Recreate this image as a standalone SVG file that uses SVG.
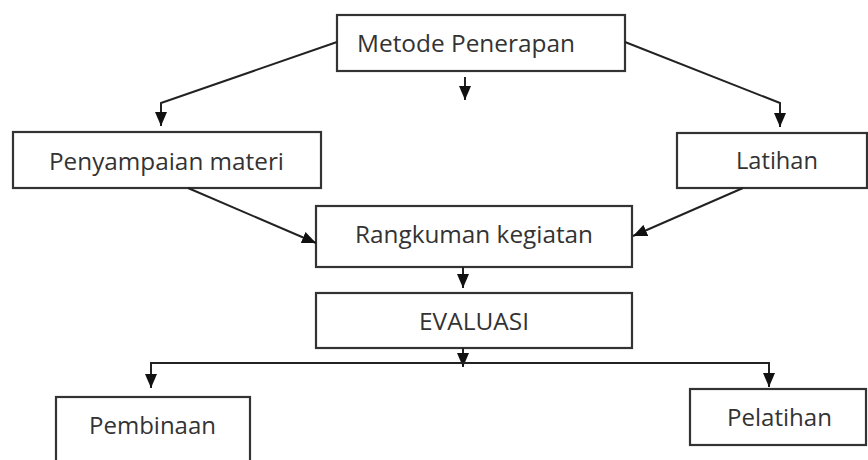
<svg xmlns="http://www.w3.org/2000/svg" width="868" height="460" viewBox="0 0 868 460">
<defs>
<style>
.box{fill:#fff;stroke:#333;stroke-width:2.2}
.lbl{font-family:"Open Sans","Noto Sans",sans-serif;font-size:23px;fill:#333;text-anchor:middle}
.c{fill:none;stroke:#222;stroke-width:2}
</style>
<marker id="ah" viewBox="0 0 14 12" refX="14" refY="6" markerWidth="14" markerHeight="12" markerUnits="userSpaceOnUse" orient="auto">
<path d="M0,0 L14,6 L0,12 z" fill="#111"/>
</marker>
</defs>
<rect width="868" height="460" fill="#fff"/>
<g id="n-metode"><rect class="box" x="337" y="15" width="288" height="56"/><text class="lbl" x="466" y="52" textLength="218" lengthAdjust="spacingAndGlyphs">Metode Penerapan</text></g>
<g id="n-penyampaian"><rect class="box" x="13" y="132" width="308" height="56"/><text class="lbl" x="166.5" y="170" textLength="235" lengthAdjust="spacingAndGlyphs">Penyampaian materi</text></g>
<g id="n-latihan"><rect class="box" x="677" y="133" width="190" height="55"/><text class="lbl" x="777" y="169" textLength="82" lengthAdjust="spacingAndGlyphs">Latihan</text></g>
<g id="n-rangkuman"><rect class="box" x="316" y="206" width="316" height="61"/><text class="lbl" x="474" y="243" textLength="238" lengthAdjust="spacingAndGlyphs">Rangkuman kegiatan</text></g>
<g id="n-evaluasi"><rect class="box" x="316" y="293" width="316" height="55"/><text class="lbl" x="474" y="330" textLength="110" lengthAdjust="spacingAndGlyphs">EVALUASI</text></g>
<g id="n-pembinaan"><rect class="box" x="56" y="397" width="194" height="70"/><text class="lbl" x="152.5" y="434" textLength="127" lengthAdjust="spacingAndGlyphs">Pembinaan</text></g>
<g id="n-pelatihan"><rect class="box" x="690" y="389" width="176" height="56"/><text class="lbl" x="779.5" y="426" textLength="105" lengthAdjust="spacingAndGlyphs">Pelatihan</text></g>
<g id="connectors">
<path class="c" d="M337,42 L161,103 L161,126" marker-end="url(#ah)"/>
<path class="c" d="M465,77 L465,100" marker-end="url(#ah)"/>
<path class="c" d="M625,42 L780,103 L780,127" marker-end="url(#ah)"/>
<path class="c" d="M188,188 L316,243" marker-end="url(#ah)"/>
<path class="c" d="M743,188 L633,236" marker-end="url(#ah)"/>
<path class="c" d="M463,267 L463,288" marker-end="url(#ah)"/>
<path class="c" d="M463,348 L463,367" marker-end="url(#ah)"/>
<path class="c" d="M463,363 L151,363 L151,388" marker-end="url(#ah)"/>
<path class="c" d="M463,363 L769,363 L769,387" marker-end="url(#ah)"/>
</g>
</svg>
